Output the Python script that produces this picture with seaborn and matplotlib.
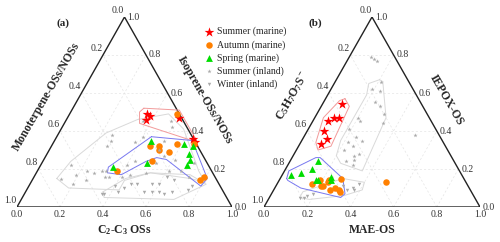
import numpy as np
import pandas as pd
import matplotlib
matplotlib.use("Agg")
import matplotlib.pyplot as plt
import seaborn as sns

sns.set_style("white")
plt.rcParams["font.family"] = ["Liberation Serif", "DejaVu Serif"]
plt.rcParams["mathtext.fontset"] = "custom"
plt.rcParams["mathtext.rm"] = "Liberation Serif:bold"
plt.rcParams["mathtext.bf"] = "Liberation Serif:bold"
plt.rcParams["mathtext.default"] = "bf"

S3 = np.sqrt(3) / 2

# ---- panel (a): bottom = C2-C3 OSs, right = Isoprene-OSs/NOSs (left = rest)
a_summer_marine_c2c3 = [0.36, 0.38, 0.37, 0.52, 0.64, 0.66]
a_summer_marine_iso = [0.49, 0.48, 0.46, 0.47, 0.36, 0.34]
a_autumn_marine_c2c3 = [0.50, 0.46, 0.50, 0.51, 0.56, 0.58, 0.66, 0.51, 0.37, 0.78, 0.79]
a_autumn_marine_iso = [0.49, 0.32, 0.32, 0.30, 0.29, 0.33, 0.33, 0.24, 0.19, 0.14, 0.16]
a_spring_marine_c2c3 = [0.45, 0.61, 0.66, 0.66, 0.68, 0.68, 0.49, 0.34]
a_spring_marine_iso = [0.35, 0.33, 0.32, 0.28, 0.25, 0.22, 0.23, 0.21]
a_summer_inland_c2c3 = [0.25, 0.26, 0.38, 0.26, 0.40, 0.49, 0.51, 0.51, 0.51, 0.55, 0.61,
                        0.53, 0.43, 0.32, 0.30, 0.27, 0.23, 0.33, 0.35, 0.25, 0.20, 0.13,
                        0.19, 0.41, 0.44, 0.51, 0.67, 0.72, 0.71, 0.61, 0.14, 0.40, 0.36]
a_summer_inland_iso = [0.38, 0.35, 0.34, 0.32, 0.37, 0.45, 0.42, 0.35, 0.30, 0.27, 0.25,
                       0.23, 0.24, 0.19, 0.19, 0.18, 0.19, 0.16, 0.16, 0.14, 0.12, 0.15,
                       0.17, 0.16, 0.17, 0.18, 0.19, 0.16, 0.23, 0.19, 0.22, 0.22, 0.45]
a_winter_inland_c2c3 = [0.47, 0.50, 0.45, 0.40, 0.43, 0.37, 0.55, 0.59, 0.57, 0.60, 0.62,
                        0.65, 0.68, 0.76, 0.75, 0.66, 0.62, 0.36]
a_winter_inland_iso = [0.12, 0.12, 0.10, 0.11, 0.08, 0.07, 0.08, 0.08, 0.12, 0.12, 0.08,
                       0.07, 0.08, 0.11, 0.09, 0.14, 0.16, 0.07]

# outline polygons (bottom, right) drawn around the groups
a_red_hull = [(0.33, 0.52), (0.50, 0.51), (0.67, 0.34), (0.35, 0.44), (0.32, 0.50)]
a_blue_hull = [(0.44, 0.37), (0.64, 0.35), (0.81, 0.15), (0.80, 0.11), (0.57, 0.25),
               (0.52, 0.26), (0.48, 0.24), (0.40, 0.17), (0.33, 0.18), (0.32, 0.21)]
a_summer_hull = [(0.11, 0.15), (0.13, 0.24), (0.22, 0.39), (0.33, 0.46), (0.46, 0.49),
                 (0.57, 0.41), (0.75, 0.19), (0.81, 0.13), (0.73, 0.15), (0.53, 0.18),
                 (0.43, 0.14), (0.43, 0.09), (0.19, 0.10)]
a_winter_hull = [(0.36, 0.08), (0.38, 0.05), (0.71, 0.04), (0.82, 0.12), (0.72, 0.17),
                 (0.53, 0.18), (0.43, 0.15)]

# ---- panel (b): bottom = MAE-OS, right = IEPOX-OS (left = C5H7O7S-)
b_summer_marine_mae = [0.09, 0.07, 0.09, 0.11, 0.08, 0.11, 0.10]
b_summer_marine_iepox = [0.54, 0.45, 0.47, 0.47, 0.40, 0.36, 0.33]
b_autumn_marine_mae = [0.16, 0.19, 0.21, 0.22, 0.23, 0.23, 0.26, 0.28, 0.31, 0.30, 0.28, 0.50]
b_autumn_marine_iepox = [0.12, 0.14, 0.11, 0.11, 0.13, 0.14, 0.09, 0.10, 0.08, 0.09, 0.15, 0.13]
b_spring_marine_mae = [0.13, 0.04, 0.08, 0.12, 0.17, 0.18, 0.23, 0.24]
b_spring_marine_iepox = [0.24, 0.17, 0.18, 0.20, 0.14, 0.14, 0.16, 0.14]
b_summer_inland_mae = [0.10, 0.12, 0.14, 0.21, 0.23, 0.24, 0.27, 0.31, 0.33, 0.20, 0.22,
                       0.19, 0.24, 0.28, 0.22, 0.25, 0.22, 0.28, 0.30, 0.26, 0.29, 0.30,
                       0.51, 0.19]
b_summer_inland_iepox = [0.79, 0.78, 0.77, 0.66, 0.61, 0.55, 0.53, 0.49, 0.44, 0.47, 0.45,
                         0.41, 0.37, 0.35, 0.34, 0.32, 0.30, 0.27, 0.28, 0.24, 0.25, 0.22,
                         0.38, 0.62]
b_winter_inland_mae = [0.16, 0.17, 0.19, 0.31, 0.36, 0.38, 0.34, 0.37, 0.14]
b_winter_inland_iepox = [0.05, 0.06, 0.07, 0.11, 0.10, 0.12, 0.09, 0.09, 0.05]

b_red_hull = [(0.09, 0.57), (0.13, 0.53), (0.15, 0.32), (0.10, 0.30), (0.07, 0.34),
              (0.04, 0.47), (0.07, 0.56)]
b_blue_hull = [(0.03, 0.15), (0.02, 0.19), (0.11, 0.26), (0.13, 0.26), (0.29, 0.15),
               (0.34, 0.07), (0.33, 0.05), (0.12, 0.10), (0.04, 0.14)]
b_summer_hull = [(0.20, 0.67), (0.22, 0.66), (0.33, 0.47), (0.36, 0.19), (0.24, 0.23),
                 (0.20, 0.27), (0.18, 0.35), (0.18, 0.59), (0.16, 0.65)]
b_winter_hull = [(0.14, 0.05), (0.14, 0.08), (0.29, 0.15), (0.40, 0.13), (0.41, 0.09),
                 (0.34, 0.06), (0.19, 0.04)]

tick_values = [0.0, 0.2, 0.4, 0.6, 0.8, 1.0]

RED, ORANGE, GREEN, GRAY = "#ff0000", "#ff8000", "#00dd00", "#a9a9a9"


def to_xy(bottom, right):
    bottom = np.asarray(bottom, float)
    right = np.asarray(right, float)
    return bottom + right / 2, right * S3


def draw_frame(ax, left_title, right_title, bottom_title, panel):
    # dashed grid
    for t in [0.2, 0.4, 0.6, 0.8]:
        for (b0, r0), (b1, r1) in [((t, 0), (t, 1 - t)), ((0, t), (1 - t, t)),
                                   ((1 - t, 0), (0, 1 - t))]:
            x, y = to_xy([b0, b1], [r0, r1])
            ax.plot(x, y, color="#e4e4e4", lw=0.5, ls=(0, (3, 3)), zorder=0)
    x, y = to_xy([0, 1, 0, 0], [0, 0, 1, 0])
    ax.plot(x, y, color="#222222", lw=1.0, zorder=1, solid_joinstyle="miter")
    # tick labels
    for t in tick_values:
        lab = f"{t:.1f}"
        ax.text(t, -0.032, lab, ha="center", va="center", fontsize=7, color="#333333")
        x, y = to_xy(1 - t, t)
        ax.text(x + 0.042, y, lab, ha="center", va="center", fontsize=7, color="#333333")
        x, y = to_xy(0, 1 - t)
        ax.text(x - 0.03, y + 0.03, lab, ha="center", va="center", fontsize=7, color="#333333")
    ax.text(0.135, 0.505, left_title, rotation=60, ha="center", va="center",
            fontsize=8.5, fontweight="bold")
    ax.text(right_title[1], 0.487, right_title[0], rotation=-60, ha="center", va="center",
            fontsize=8.5, fontweight="bold")
    ax.text(0.5, -0.105, bottom_title, ha="center", va="center", fontsize=8.5,
            fontweight="bold")
    ax.text(panel[1], 0.839, panel[0], ha="center", va="center", fontsize=8, fontweight="bold")
    ax.set_xlim(0, 1)
    ax.set_ylim(0, S3)
    ax.axis("off")


def draw_hull(ax, pts, color):
    b, r = zip(*(list(pts) + [pts[0]]))
    x, y = to_xy(b, r)
    ax.plot(x, y, color=color, lw=0.7, zorder=2)


def draw_series(ax, bottom, right, marker, color, size, label):
    x, y = to_xy(bottom, right)
    df = pd.DataFrame({"x": x, "y": y})
    sns.scatterplot(data=df, x="x", y="y", marker=marker, color=color, s=size,
                    linewidth=0, ax=ax, label=label, legend=False, zorder=3)


fig = plt.figure(figsize=(5, 2.42), dpi=100)
ax_a = fig.add_axes([17 / 500, 35 / 242, 215 / 500, 190 / 242])
ax_b = fig.add_axes([264 / 500, 35 / 242, 216 / 500, 190 / 242])

# panel (a)
draw_hull(ax_a, a_summer_hull, "#d9d9d9")
draw_hull(ax_a, a_winter_hull, "#d9d9d9")
draw_hull(ax_a, a_red_hull, "#f29a9a")
draw_hull(ax_a, a_blue_hull, "#7878f0")
draw_series(ax_a, a_summer_marine_c2c3, a_summer_marine_iso, "*", RED, 55, "Summer (marine)")
draw_series(ax_a, a_autumn_marine_c2c3, a_autumn_marine_iso, "o", ORANGE, 22, "Autumn (marine)")
draw_series(ax_a, a_spring_marine_c2c3, a_spring_marine_iso, "^", GREEN, 24, "Spring (marine)")
draw_series(ax_a, a_summer_inland_c2c3, a_summer_inland_iso, "*", GRAY, 10, "Summer (inland)")
draw_series(ax_a, a_winter_inland_c2c3, a_winter_inland_iso, "v", GRAY, 6, "Winter (inland)")
draw_frame(ax_a, "Monoterpene-OSs/NOSs", ("Isoprene-OSs/NOSs", 0.874),
           "C$_2$-C$_3$ OSs", ("(a)", 0.214))

# panel (b)
draw_hull(ax_b, b_summer_hull, "#d9d9d9")
draw_hull(ax_b, b_winter_hull, "#d9d9d9")
draw_hull(ax_b, b_red_hull, "#f29a9a")
draw_hull(ax_b, b_blue_hull, "#7878f0")
draw_series(ax_b, b_summer_marine_mae, b_summer_marine_iepox, "*", RED, 55, None)
draw_series(ax_b, b_autumn_marine_mae, b_autumn_marine_iepox, "o", ORANGE, 22, None)
draw_series(ax_b, b_spring_marine_mae, b_spring_marine_iepox, "^", GREEN, 24, None)
draw_series(ax_b, b_summer_inland_mae, b_summer_inland_iepox, "*", GRAY, 10, None)
draw_series(ax_b, b_winter_inland_mae, b_winter_inland_iepox, "v", GRAY, 6, None)
draw_frame(ax_b, "C$_5$H$_7$O$_7$S$^-$", ("IEPOX-OS", 0.845),
           "MAE-OS", ("(b)", 0.236))

handles, labels = ax_a.get_legend_handles_labels()
fig.legend(handles, labels, loc="upper left", bbox_to_anchor=(0.398, 0.905),
           frameon=False, fontsize=7, handletextpad=0.3, labelspacing=0.35,
           borderaxespad=0, handlelength=1.2)

fig.savefig("out.png", dpi=100)
